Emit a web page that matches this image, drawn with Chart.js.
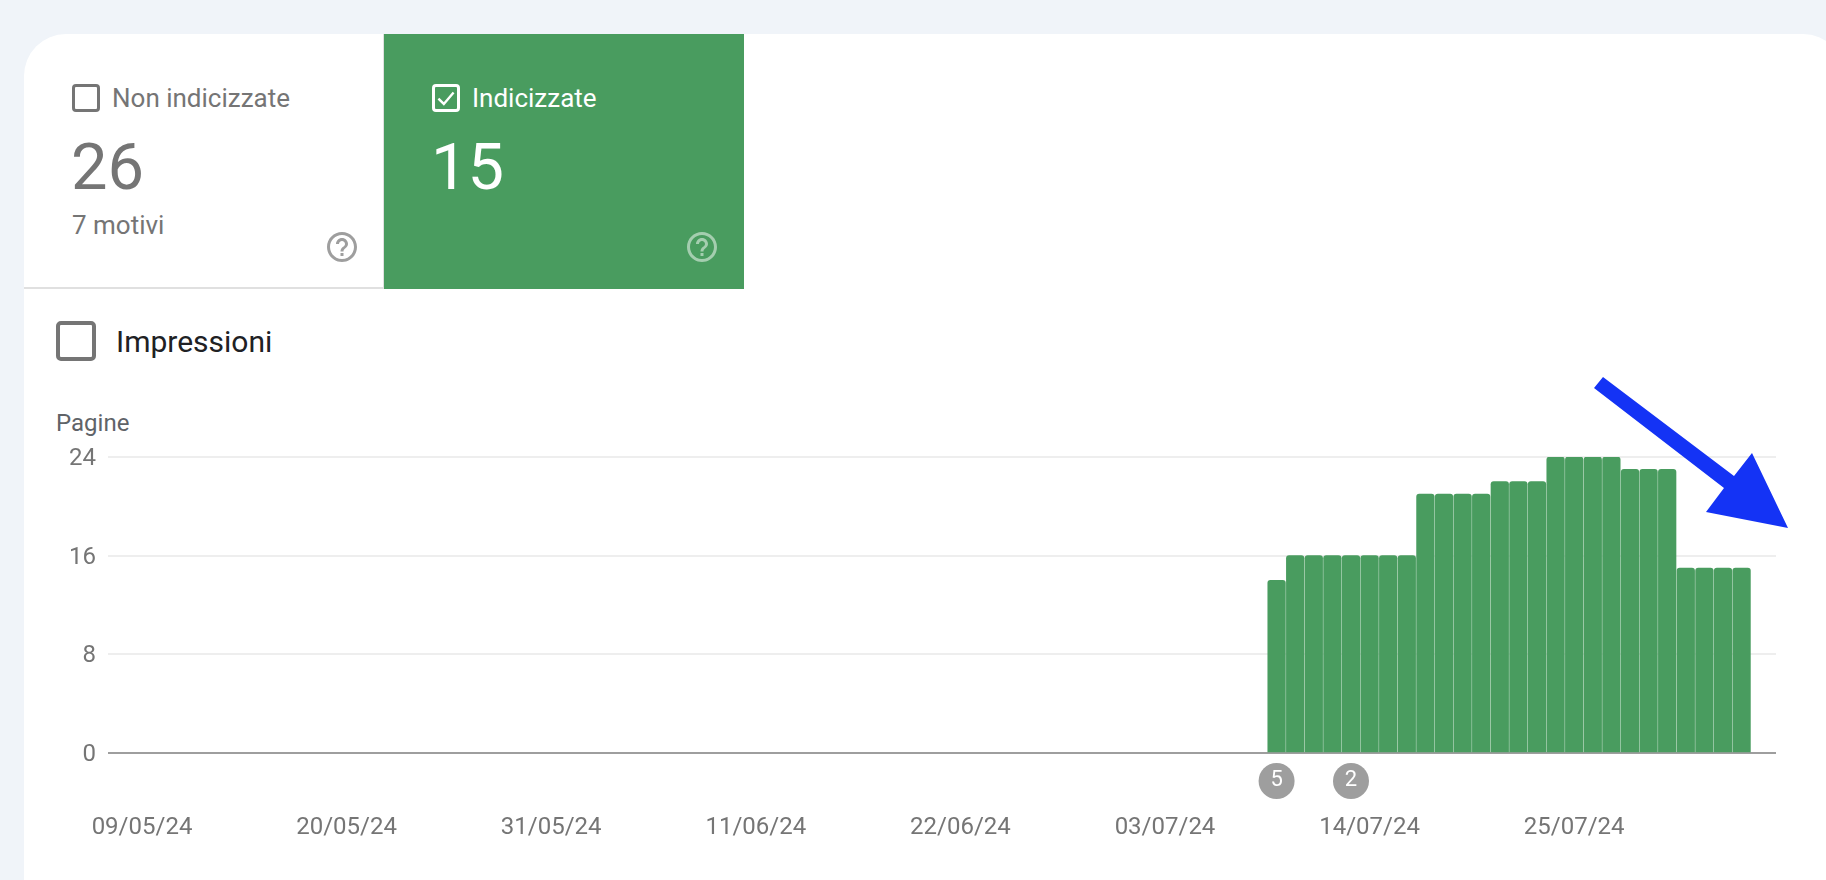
<!DOCTYPE html>
<html lang="it"><head><meta charset="utf-8">
<script src="https://cdn.jsdelivr.net/npm/chart.js@4"></script>
<style>
html,body{margin:0;padding:0;width:1826px;height:880px;overflow:hidden;background:#f0f4f9;font-family:Roboto,sans-serif}
.abs{position:absolute;white-space:nowrap}
#card{position:absolute;left:24px;top:34px;width:1821px;height:846px;background:#fff;border-radius:42px 42px 0 0}
#tab1{position:absolute;left:24px;top:34px;width:359px;height:253px;border-bottom:2px solid #e0e0e0;border-right:2px solid #e0e0e0;border-top-left-radius:42px}
#tab2{position:absolute;left:384px;top:34px;width:360px;height:255px;background:#499c5f}
.cb{position:absolute;box-sizing:border-box;border-style:solid}
canvas{position:absolute;left:0;top:0}
</style></head><body>
<div id="card"></div><div id="tab1"></div><div id="tab2"></div>
<div class="cb" style="left:72px;top:84px;width:28px;height:28px;border:3px solid #757575;border-radius:4px"></div>
<div class="abs" style="left:112px;top:83px;font-size:26px;line-height:30px;color:#757575">Non indicizzate</div>
<div class="abs" style="left:71px;top:129px;font-size:65px;line-height:76px;color:#757575">26</div>
<div class="abs" style="left:72px;top:210px;font-size:26px;line-height:30px;color:#757575">7 motivi</div>
<svg class="abs" style="left:324px;top:229px" width="36" height="36" viewBox="0 0 24 24"><path fill="#9e9e9e" d="M11 18h2v-2h-2v2zm1-16C6.48 2 2 6.48 2 12s4.48 10 10 10 10-4.48 10-10S17.52 2 12 2zm0 18c-4.41 0-8-3.59-8-8s3.59-8 8-8 8 3.59 8 8-3.59 8-8 8zm0-14c-2.21 0-4 1.79-4 4h2c0-1.1.9-2 2-2s2 .9 2 2c0 2-3 1.75-3 5h2c0-2.25 3-2.5 3-5 0-2.21-1.79-4-4-4z"/></svg>
<div class="cb" style="left:432px;top:84px;width:28px;height:28px;border:3px solid #fff;border-radius:4px"></div>
<svg class="abs" style="left:433px;top:85px" width="26" height="26" viewBox="0 0 24 24"><path fill="none" stroke="#fff" stroke-width="2.2" d="M5 12.5l5 5L19 7"/></svg>
<div class="abs" style="left:472px;top:83px;font-size:26px;line-height:30px;color:#fff">Indicizzate</div>
<div class="abs" style="left:431px;top:129px;font-size:65px;line-height:76px;color:#fff">15</div>
<svg class="abs" style="left:684px;top:229px" width="36" height="36" viewBox="0 0 24 24"><path fill="#ffffff" fill-opacity=".5" d="M11 18h2v-2h-2v2zm1-16C6.48 2 2 6.48 2 12s4.48 10 10 10 10-4.48 10-10S17.52 2 12 2zm0 18c-4.41 0-8-3.59-8-8s3.59-8 8-8 8 3.59 8 8-3.59 8-8 8zm0-14c-2.21 0-4 1.79-4 4h2c0-1.1.9-2 2-2s2 .9 2 2c0 2-3 1.75-3 5h2c0-2.25 3-2.5 3-5 0-2.21-1.79-4-4-4z"/></svg>
<div class="cb" style="left:56px;top:321px;width:40px;height:40px;border:4px solid #757575;border-radius:5px"></div>
<div class="abs" style="left:116px;top:325px;font-size:30px;line-height:34px;color:#202124">Impressioni</div>
<div class="abs" style="left:56px;top:409px;font-size:24px;line-height:28px;color:#5f6368">Pagine</div>
<canvas id="c" width="1826" height="880" style="width:1826px;height:880px"></canvas>
<svg class="abs" style="left:0;top:0;pointer-events:none" width="1826" height="880"><polygon fill="#1433f5" points="1603,377 1734,476 1752,453 1788,528 1706,512 1724,488 1594,388"/></svg>
<script>
const barDays=[61,62,63,64,65,66,67,68,69,70,71,72,73,74,75,76,77,78,79,80,81,82,83,84,85,86];
const barValues=[14,16,16,16,16,16,16,16,21,21,21,21,22,22,22,24,24,24,24,23,23,23,15,15,15,15];
const tickDays=[0,11,22,33,44,55,66,77];
const tickLabels=['09/05/24','20/05/24','31/05/24','11/06/24','22/06/24','03/07/24','14/07/24','25/07/24'];
const yTicks=[0,8,16,24];
const markerDays=[61,65];
const markerLabels=['5','2'];

const markers={id:'markers',afterDraw(chart){
  const ctx=chart.ctx,x=chart.scales.x;
  ctx.save();
  markerDays.forEach((d,i)=>{
    const px=x.getPixelForValue(d);
    ctx.beginPath();ctx.arc(px,781,18,0,Math.PI*2);ctx.fillStyle='#9e9e9e';ctx.fill();
    ctx.fillStyle='#fff';ctx.font='22px Roboto';ctx.textAlign='center';ctx.textBaseline='middle';
    ctx.fillText(markerLabels[i],px,780);
  });
  ctx.restore();
}};

new Chart(document.getElementById('c'),{
  type:'bar',
  data:{datasets:[{
    data:barDays.map((d,i)=>({x:d,y:barValues[i]})),
    backgroundColor:'#499c5f',
    barThickness:17.6,
    borderRadius:{topLeft:3,topRight:3,bottomLeft:0,bottomRight:0},
    borderSkipped:false
  }]},
  plugins:[markers],
  options:{
    responsive:false,animation:false,devicePixelRatio:1,
    layout:{padding:{left:0,right:50,top:457,bottom:0}},
    plugins:{legend:{display:false},tooltip:{enabled:false}},
    scales:{
      x:{type:'linear',offset:false,min:-1.828,max:87.85,
        grid:{display:false,drawTicks:false},border:{display:false},
        afterBuildTicks(s){s.ticks=tickDays.map(v=>({value:v}));},
        afterFit(s){s.height=127;},
        ticks:{autoSkip:false,maxRotation:0,minRotation:0,padding:61,color:'#757575',font:{family:'Roboto',size:24},
          callback:v=>tickLabels[tickDays.indexOf(v)]}
      },
      y:{min:0,max:24,
        afterBuildTicks(s){s.ticks=yTicks.map(v=>({value:v}));},
        afterFit(s){s.width=108;},
        grid:{drawTicks:false,lineWidth:2,color:c=>c.tick&&c.tick.value===0?'#9e9e9e':'#eeeeee'},
        border:{display:false},
        ticks:{padding:12,labelOffset:2,color:'#757575',font:{family:'Roboto',size:24}}
      }
    }
  }
});
</script>
</body></html>
